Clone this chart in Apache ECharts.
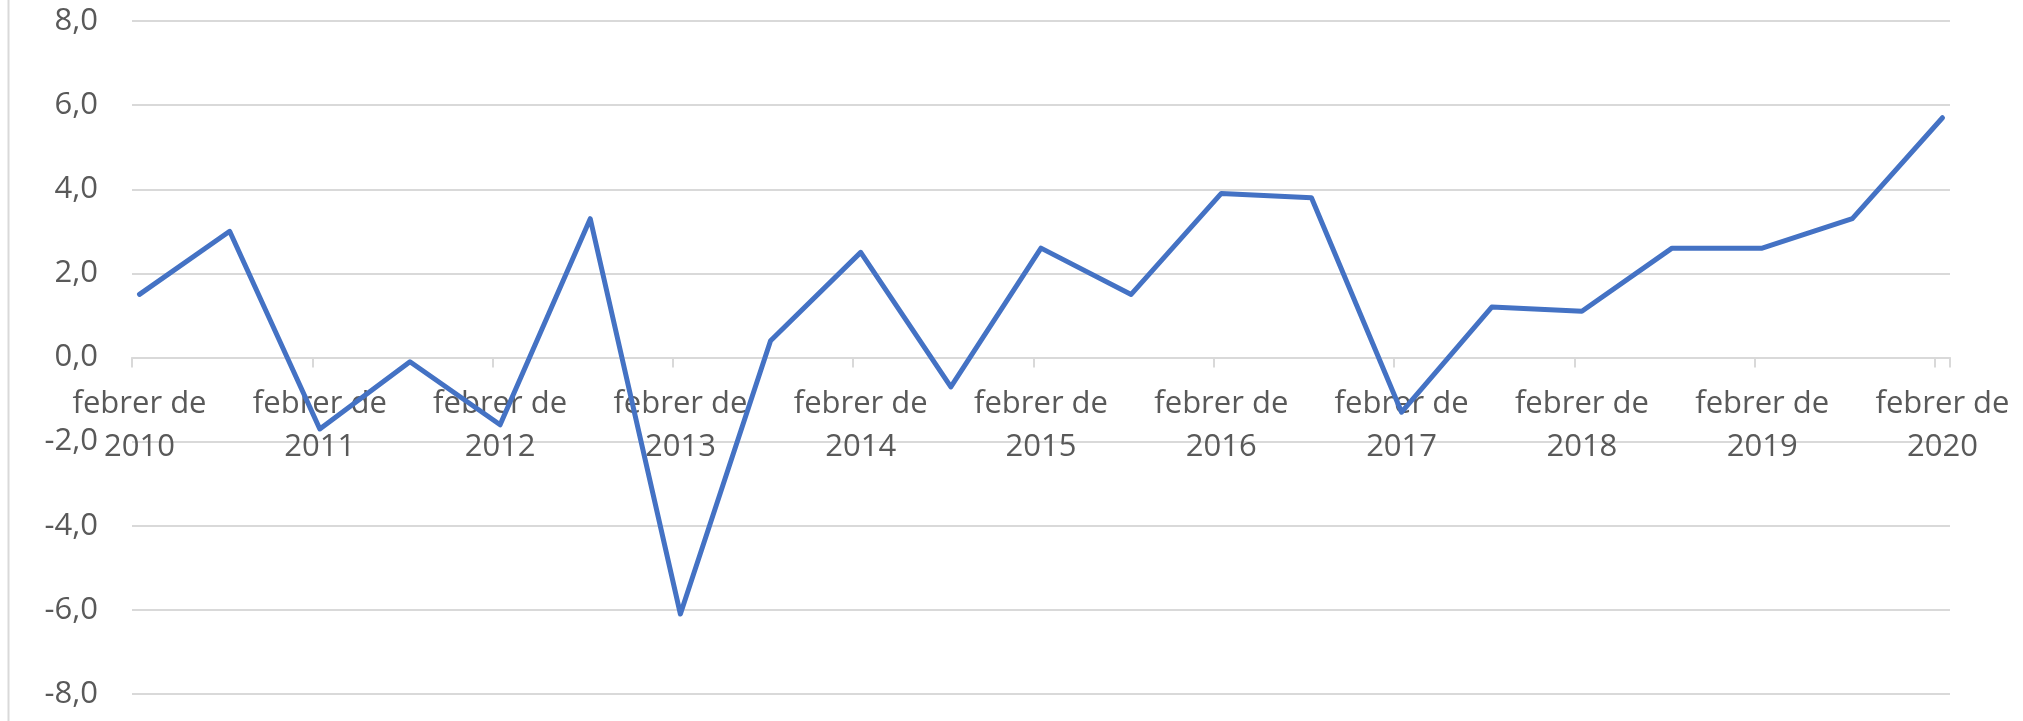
<!DOCTYPE html>
<html lang="ca">
<head>
   <meta charset="utf-8">
   <title>Variació febrer 2010 - febrer 2020</title>
   <script src="https://cdn.jsdelivr.net/npm/echarts@6/dist/echarts.min.js"></script>
   <style>
      html, body { margin: 0; padding: 0; background: #fff; }
      #chart { width: 2023px; height: 721px; }
   </style>
</head>
<body>
   <div id="chart"></div>
   <script>
      // semi-annual observations (febrer / agost)
      var periods = [
         'febrer de 2010', 'agost de 2010', 'febrer de 2011', 'agost de 2011',
         'febrer de 2012', 'agost de 2012', 'febrer de 2013', 'agost de 2013',
         'febrer de 2014', 'agost de 2014', 'febrer de 2015', 'agost de 2015',
         'febrer de 2016', 'agost de 2016', 'febrer de 2017', 'agost de 2017',
         'febrer de 2018', 'agost de 2018', 'febrer de 2019', 'agost de 2019',
         'febrer de 2020'
      ];
      var values = [
         1.5, 3.0, -1.7, -0.1, -1.6, 3.3, -6.1, 0.4, 2.5, -0.7, 2.6,
         1.5, 3.9, 3.8, -1.3, 1.2, 1.1, 2.6, 2.6, 3.3, 5.7
      ];
      var mesos = ['gener', 'febrer', 'març', 'abril', 'maig', 'juny', 'juliol',
                   'agost', 'setembre', 'octubre', 'novembre', 'desembre'];

      // the original uses a monthly date axis, so build one category per month
      var months = [];
      for (var i = 0; i <= 120; i++) {
         var k = i + 1;
         months.push(mesos[k % 12] + ' de ' + (2010 + Math.floor(k / 12)));
      }
      var monthly = months.map(function () { return null; });
      periods.forEach(function (p, j) {
         monthly[months.indexOf(p)] = values[j];
      });

      var textColor = '#595959';
      var gridColor = '#d9d9d9';
      var font = '"Open Sans", "Noto Sans", sans-serif';

      var gridTop = 21, gridBottom = 27, H = 721;
      // category axis sits on the zero line (half way between -8 and 8)
      var zeroOffset = -((H - gridTop - gridBottom) / 2);

      var yearly = function (index) { return index % 12 === 0; };

      var chart = echarts.init(document.getElementById('chart'), null, { renderer: 'canvas' });

      var option = {
         animation: false,
         grid: {
            left: 132,
            right: 73,
            top: gridTop,
            bottom: gridBottom,
            containLabel: false,
            outerBoundsMode: 'none'
         },
         graphic: [
            {
               type: 'line',
               shape: { x1: 8.5, y1: 0, x2: 8.5, y2: 721 },
               style: { stroke: gridColor, lineWidth: 2 }
            }
         ],
         xAxis: {
            type: 'category',
            data: months,
            boundaryGap: true,
            position: 'bottom',
            offset: zeroOffset,
            axisLine: {
               onZero: false,
               lineStyle: { color: gridColor, width: 2 }
            },
            axisTick: {
               show: true,
               interval: yearly,
               length: 10,
               lineStyle: { color: gridColor, width: 2 }
            },
            axisLabel: {
               interval: yearly,
               margin: 25,
               color: textColor,
               fontFamily: font,
               fontSize: 31,
               lineHeight: 43,
               formatter: function (v) {
                  return v.replace(/ (\d{4})$/, '\n$1');
               }
            },
            splitLine: { show: false }
         },
         yAxis: {
            type: 'value',
            min: -8,
            max: 8,
            interval: 2,
            axisLine: { show: false },
            axisTick: { show: false },
            axisLabel: {
               margin: 34,
               color: textColor,
               fontFamily: font,
               fontSize: 31,
               formatter: function (v) {
                  return v.toFixed(1).replace('.', ',');
               }
            },
            splitLine: {
               lineStyle: { color: gridColor, width: 2 }
            }
         },
         series: [
            {
               type: 'line',
               data: monthly,
               connectNulls: true,
               showSymbol: false,
               symbol: 'none',
               lineStyle: {
                  color: '#4472C4',
                  width: 5,
                  cap: 'round',
                  join: 'round'
               }
            }
         ]
      };

      chart.setOption(option);
   </script>
</body>
</html>
